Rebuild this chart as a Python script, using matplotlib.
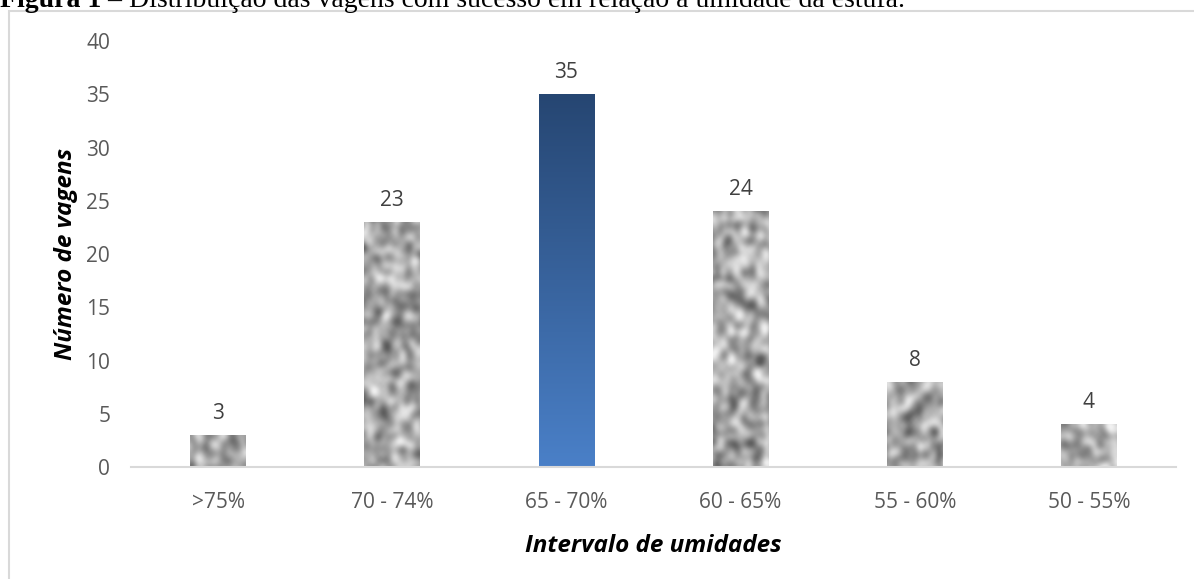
import numpy as np
import matplotlib
matplotlib.use("Agg")
import matplotlib.pyplot as plt
from matplotlib.patches import Rectangle

# dados do gráfico
intervalos = [">75%", "70 - 74%", "65 - 70%", "60 - 65%", "55 - 60%", "50 - 55%"]
vagens = [3, 23, 35, 24, 8, 4]
destaque = "65 - 70%"

plt.rcParams["font.family"] = ["Open Sans", "DejaVu Sans"]

fig = plt.figure(figsize=(11.94, 5.79), dpi=100)
ax = fig.add_axes([0.1097, 0.1934, 0.8752, 0.7358])

x = np.arange(len(intervalos))
barras = ax.bar(x, vagens, width=0.32, color="none", edgecolor="none", zorder=2)

# textura granulada (cinza) para as barras
rng = np.random.default_rng(7)
ruido = rng.random((150, 420))
for _ in range(4):
    ruido = (ruido + np.roll(ruido, 1, 0) + np.roll(ruido, -1, 0)
             + np.roll(ruido, 1, 1) + np.roll(ruido, -1, 1)) / 5.0
ruido = (ruido - ruido.mean()) / ruido.std()
ruido = np.clip(0.66 + 0.11 * ruido, 0.35, 0.95)

# degradê azul para a barra em destaque
topo = np.array([0x26, 0x46, 0x72]) / 255
base = np.array([0x4a, 0x80, 0xc8]) / 255
t = np.linspace(0, 1, 256)[:, None]
grad = (topo * (1 - t) + base * t)[:, None, :]

for rot, b in zip(intervalos, barras):
    x0 = b.get_x()
    w, h = b.get_width(), b.get_height()
    if rot == destaque:
        im = ax.imshow(grad, extent=[x0, x0 + w, 0, h], aspect="auto",
                       interpolation="bilinear", zorder=2)
    else:
        im = ax.imshow(ruido, cmap="gray", vmin=0, vmax=1,
                       extent=[-0.5, 5.5, 0, 40], aspect="auto",
                       interpolation="bicubic", zorder=2)
    im.set_clip_path(b)
    ax.annotate(str(int(h)), (x0 + w / 2, h), xytext=(0, 8),
                textcoords="offset points", ha="center", va="bottom",
                fontsize=15, color="#404040")

ax.set_xlim(-0.5, len(intervalos) - 0.5)
ax.set_ylim(0, 40)
ax.set_xticks(x)
ax.set_xticklabels(intervalos)
ax.set_yticks(range(0, 41, 5))
ax.tick_params(axis="both", length=0, labelsize=15, labelcolor="#595959")
ax.tick_params(axis="x", pad=18)
ax.tick_params(axis="y", pad=15)
for lado in ["top", "right", "left"]:
    ax.spines[lado].set_visible(False)
ax.spines["bottom"].set_color("#d9d9d9")
ax.spines["bottom"].set_linewidth(1.5)

ax.set_ylabel("Número de vagens", fontsize=17.5, fontweight="bold",
              fontstyle="italic", color="black", labelpad=6)
ax.set_xlabel("Intervalo de umidades", fontsize=17.5, fontweight="bold",
              fontstyle="italic", color="black", labelpad=15)

# moldura da área do gráfico
fig.patches.append(Rectangle((9 / 1194, -0.1), 1.2, 1.1 - 11 / 579,
                             transform=fig.transFigure, fill=False,
                             edgecolor="#d9d9d9", linewidth=1.5))

# legenda da figura (Times), parcialmente acima da borda
y_tit = 1 - 7 / 579
t1 = fig.text(0.0, y_tit, "Figura 1", fontsize=20, fontweight="bold",
              family="Liberation Serif", va="baseline", ha="left")
r = fig.canvas.get_renderer()
x_fim = t1.get_window_extent(r).x1 / fig.bbox.width
fig.text(x_fim, y_tit,
         " – Distribuição das vagens com sucesso em relação à umidade da estufa.",
         fontsize=20, family="Liberation Serif", va="baseline", ha="left")

fig.savefig("out.png", dpi=100)
